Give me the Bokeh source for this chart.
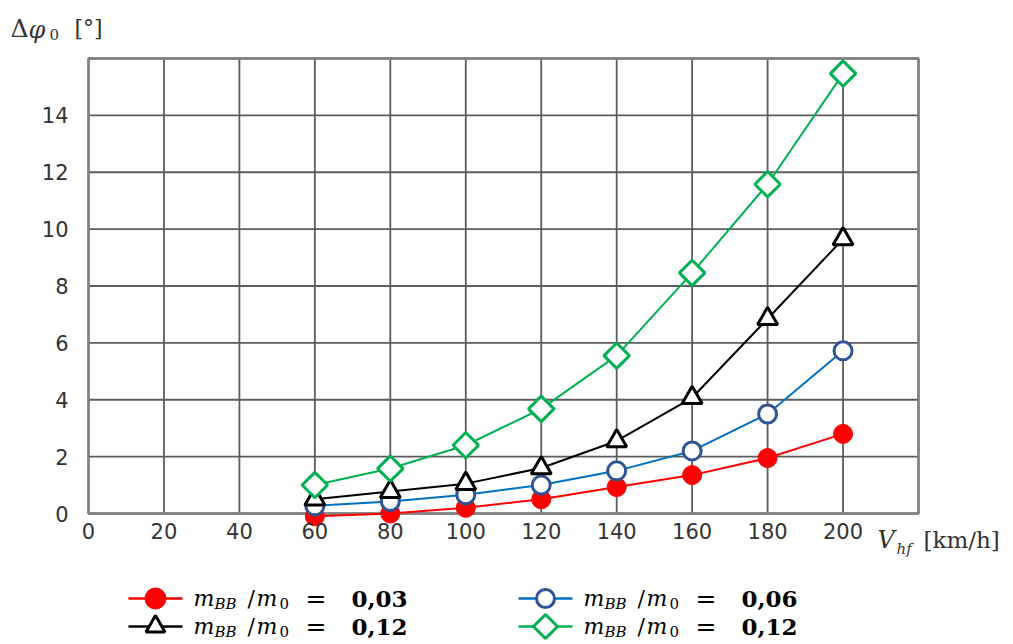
import math
from bokeh.plotting import figure
from bokeh.models import Range1d, FixedTicker, Label
from bokeh.embed import file_html
from bokeh.resources import INLINE

# ---------------- data ----------------
speed = [60, 80, 100, 120, 140, 160, 180, 200]                  # V_hf [km/h]
dphi_003 = [-0.1, 0.0, 0.2, 0.5, 0.93, 1.35, 1.95, 2.8]           # m_BB/m_0 = 0,03
dphi_006 = [0.27, 0.42, 0.66, 1.0, 1.5, 2.2, 3.5, 5.72]           # m_BB/m_0 = 0,06
dphi_012a = [0.5, 0.77, 1.05, 1.6, 2.55, 4.07, 6.85, 9.65]        # m_BB/m_0 = 0,12 (triangles)
dphi_012b = [1.0, 1.58, 2.4, 3.68, 5.55, 8.46, 11.58, 15.47]      # m_BB/m_0 = 0,12 (diamonds)
x_ticks = [0, 20, 40, 60, 80, 100, 120, 140, 160, 180, 200]
y_ticks = [0, 2, 4, 6, 8, 10, 12, 14]
ratio_labels = ["0,03", "0,06", "0,12", "0,12"]
X_MAX, Y_MAX = 220, 16

RED, BLUE_L, BLUE_M, BLACK, GREEN = "#ff0000", "#0070c0", "#2f5597", "#000000", "#00b050"
TXT = "#333333"
GRID = "#5c5c5c"

# ---------------- layout (page pixels) ----------------
W, H = 1010, 642
FL, FR, FT, FB = 88, 918, 58, 513   # plot area edges on the page


def dx(px):  # page x pixel -> data x
    return (px - FL) / (FR - FL) * X_MAX


def dy(py):  # page y pixel -> data y
    return (FB - py) / (FB - FT) * Y_MAX


p = figure(width=W, height=H,
           x_range=Range1d(dx(0), dx(W)), y_range=Range1d(dy(H), dy(0)),
           min_border=0, output_backend="svg", toolbar_location=None)
p.background_fill_color = "white"
p.border_fill_color = "white"
p.outline_line_color = None
p.grid.visible = False

# axes fixed at the data origin
p.xaxis.fixed_location = 0
p.yaxis.fixed_location = 0
p.xaxis.ticker = FixedTicker(ticks=x_ticks)
p.yaxis.ticker = FixedTicker(ticks=y_ticks)
for ax in (p.xaxis, p.yaxis):
    ax.axis_line_color = None
    ax.major_tick_line_color = None
    ax.minor_tick_line_color = None
    ax.major_tick_out = 0
    ax.major_tick_in = 0
    ax.major_label_text_font = "DejaVu Sans"
    ax.major_label_text_font_size = "21px"
    ax.major_label_text_color = TXT
p.xaxis.major_label_standoff = 9
p.yaxis.major_label_standoff = 20

# grid of the plot area
gx = x_ticks + [X_MAX]
gy = y_ticks + [Y_MAX]
p.segment(x0=gx, y0=[0] * len(gx), x1=gx, y1=[Y_MAX] * len(gx), line_color=GRID, line_width=1.8)
p.segment(x0=[0] * len(gy), y0=gy, x1=[X_MAX] * len(gy), y1=gy, line_color=GRID, line_width=1.8)
p.quad(left=[0], right=[X_MAX], bottom=[0], top=[Y_MAX], fill_color=None,
       line_color="#808080", line_width=2.5)

# series
p.line(speed, dphi_003, line_color=RED, line_width=2)
p.scatter(speed, dphi_003, marker="circle", size=19, fill_color=RED, line_color=RED)

p.line(speed, dphi_006, line_color=BLUE_L, line_width=2)
p.scatter(speed, dphi_006, marker="circle", size=18, fill_color="white",
          line_color=BLUE_M, line_width=3)

p.line(speed, dphi_012a, line_color=BLACK, line_width=2)
p.scatter(speed, dphi_012a, marker="triangle", size=20, fill_color="white",
          line_color=BLACK, line_width=3)

p.line(speed, dphi_012b, line_color=GREEN, line_width=2)
p.scatter(speed, dphi_012b, marker="square", angle=math.pi / 4, size=18, fill_color="white",
          line_color=GREEN, line_width=3)


def lab(px, py, text, size="22px", style="normal", font="DejaVu Serif", color=TXT):
    p.add_layout(Label(x=dx(px), y=dy(py), text=text, text_font=font, text_font_size=size,
                       text_font_style=style, text_color=color,
                       text_baseline="middle", text_align="left"))


# y axis title (top-left)
lab(10, 28, "Δ", size="25px")
lab(28, 29, "φ", size="24px", style="italic")
lab(49, 34, "0", size="15px")
lab(74, 28, "[°]")

# x axis title (right of the axis)
lab(877, 539, "V", size="24px", style="italic")
lab(896, 548, "hf", size="15px", style="italic")
lab(923, 539, "[km/h]", size="23px")

# ---------------- legend ----------------
entries = [
    (RED, RED, RED, "circle", 21, 1, 0),
    (BLUE_L, BLUE_M, "white", "circle", 18, 3, 0),
    (BLACK, BLACK, "white", "triangle", 19, 3, 0),
    (GREEN, GREEN, "white", "square", 17, 3, math.pi / 4),
]
row_y = [598, 626]
col_off = [0, 390]
for i, ((lc, mc, fc, mk, sz, mlw, ang), txt) in enumerate(zip(entries, ratio_labels)):
    ox = col_off[i % 2]
    y = row_y[i // 2]
    p.line([dx(128 + ox), dx(182 + ox)], [dy(y), dy(y)], line_color=lc, line_width=2.5)
    p.scatter([dx(155 + ox)], [dy(y)], marker=mk, size=sz, angle=ang, fill_color=fc,
              line_color=mc, line_width=mlw)
    lab(193 + ox, y, "m", style="italic", color="black")
    lab(214 + ox, y + 5, "BB", size="15px", style="italic", color="black")
    lab(247 + ox, y, "/", color="black")
    lab(256 + ox, y, "m", style="italic", color="black")
    lab(279 + ox, y + 5, "0", size="15px", color="black")
    lab(305 + ox, y, "=", size="25px", color="black")
    lab(351 + ox, y, txt, size="23px", style="bold", color="black")

open("out.html", "w").write(file_html(p, INLINE))
